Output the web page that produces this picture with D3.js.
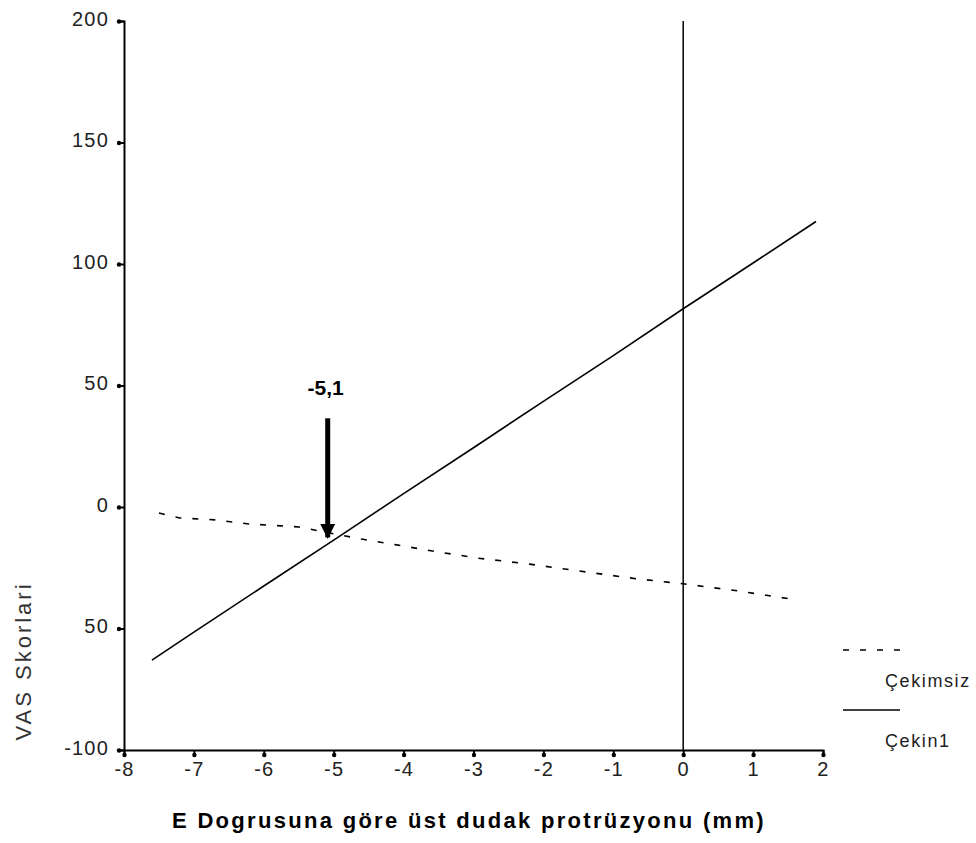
<!DOCTYPE html>
<html>
<head>
<meta charset="utf-8">
<script src="https://cdn.jsdelivr.net/npm/d3@7"></script>
<style>
  body { margin: 0; background: #fff; }
  svg { display: block; }
</style>
</head>
<body>
<svg id="chart" width="976" height="843"></svg>
<script>
// x ticks and y ticks as printed on the original (the -50 label lost its minus)
var xTicks = [-8, -7, -6, -5, -4, -3, -2, -1, 0, 1, 2];
var yTicks = [200, 150, 100, 50, 0, -50, -100];
var yTickLabels = ['200', '150', '100', '50', '0', '50', '-100'];

// Çekin1 (solid)
var cekinX = [-7.6, -7, -6, -5, -4, -3, -2, -1, 0, 1, 1.9];
var cekinY = [-63, -51.5, -32.5, -13.6, 5.5, 24.4, 43.5, 62.3, 81.6, 100.4, 117.5];

// Çekimsiz (dashed)
var cekimsizX = [-7.5, -7.2, -6.7, -6.2, -5.5, -5.0, -4.6, -4.1, -3.5, -2.95, -2.2, -1.4, -0.65, 0, 0.8, 1.55];
var cekimsizY = [-2.5, -4.5, -5.3, -7.0, -8.2, -11.0, -13.2, -15.6, -18.5, -21.0, -23.5, -26.7, -29.6, -31.6, -34.6, -37.9];

var markX = -5.1;
var markLabel = '-5,1';

var svg = d3.select('#chart'),
    margin = {top: 21, right: 153, bottom: 93, left: 124},
    width = +svg.attr('width') - margin.left - margin.right,
    height = +svg.attr('height') - margin.top - margin.bottom,
    g = svg.append('g').attr('transform', 'translate(' + margin.left + ',' + margin.top + ')');

var x = d3.scaleLinear().domain([-8, 2]).range([0, width]);
var y = d3.scaleLinear().domain([-100, 200]).range([height, 0]);

var tickFont = 'Arial, "Liberation Sans", sans-serif';

// vertical reference line at x = 0
g.append('line')
    .attr('x1', x(0)).attr('x2', x(0))
    .attr('y1', y(200)).attr('y2', y(-100))
    .attr('stroke', '#000').attr('stroke-width', 1.5);

// axes
var xAxis = g.append('g')
    .attr('transform', 'translate(0,' + height + ')')
    .call(d3.axisBottom(x).tickValues(xTicks).tickSize(5).tickPadding(7)
        .tickFormat(function(d) { return d < 0 ? '-' + Math.abs(d) : '' + d; }));
var yAxis = g.append('g')
    .call(d3.axisLeft(y).tickValues(yTicks).tickSize(5).tickPadding(10)
        .tickFormat(function(d, i) { return yTickLabels[i]; }));

[xAxis, yAxis].forEach(function(ax) {
  ax.select('.domain').attr('stroke', '#000').attr('stroke-width', 2);
  ax.selectAll('.tick line').attr('stroke', '#000').attr('stroke-width', 2);
  ax.selectAll('.tick text')
      .attr('font-family', tickFont)
      .attr('font-size', 20)
      .attr('letter-spacing', 1.2)
      .attr('fill', '#222');
});
yAxis.selectAll('.tick text').attr('dy', '0.2em');
xAxis.selectAll('.tick').append('circle').attr('cy', 5).attr('r', 2.2).attr('fill', '#000');
yAxis.selectAll('.tick').append('circle').attr('cx', -5).attr('r', 2.2).attr('fill', '#000');

// lines
var line = d3.line()
    .x(function(d) { return x(d[0]); })
    .y(function(d) { return y(d[1]); });

g.append('path')
    .datum(d3.zip(cekinX, cekinY))
    .attr('fill', 'none')
    .attr('stroke', '#000')
    .attr('stroke-width', 1.6)
    .attr('d', line);

g.append('path')
    .datum(d3.zip(cekimsizX, cekimsizY))
    .attr('fill', 'none')
    .attr('stroke', '#000')
    .attr('stroke-width', 1.6)
    .attr('stroke-dasharray', '6,11')
    .attr('d', line);

// annotation arrow
var defs = svg.append('defs');
defs.append('marker')
    .attr('id', 'arrow')
    .attr('viewBox', '0 0 10 10')
    .attr('refX', 9).attr('refY', 5)
    .attr('markerWidth', 3).attr('markerHeight', 3)
    .attr('orient', 'auto')
  .append('path')
    .attr('d', 'M0,0 L10,5 L0,10 z')
    .attr('fill', '#000');

var ax0 = x(markX) + 1;
g.append('line')
    .attr('x1', ax0).attr('x2', ax0)
    .attr('y1', y(36.5)).attr('y2', y(-12.5))
    .attr('stroke', '#000').attr('stroke-width', 5)
    .attr('marker-end', 'url(#arrow)');

g.append('text')
    .attr('x', ax0 - 2)
    .attr('y', y(46))
    .attr('text-anchor', 'middle')
    .attr('font-family', tickFont)
    .attr('font-weight', 'bold')
    .attr('font-size', 21)
    .text(markLabel);

// axis titles
svg.append('text')
    .attr('x', 469)
    .attr('y', 828)
    .attr('text-anchor', 'middle')
    .attr('font-family', tickFont)
    .attr('font-weight', 'bold')
    .attr('font-size', 22)
    .attr('letter-spacing', 2.3)
    .text('E Dogrusuna göre üst dudak protrüzyonu (mm)');

svg.append('text')
    .attr('transform', 'translate(31,661) rotate(-90)')
    .attr('text-anchor', 'middle')
    .attr('font-family', tickFont)
    .attr('font-size', 22)
    .attr('letter-spacing', 3)
    .attr('fill', '#333')
    .text('VAS Skorlari');

// legend
var legend = svg.append('g')
    .attr('font-family', tickFont)
    .attr('font-size', 18)
    .attr('letter-spacing', 1.6)
    .attr('fill', '#222');

var legendItems = [
  {name: 'Çekimsiz', dash: '6,11', y: 650},
  {name: 'Çekin1', dash: null, y: 710}
];
legendItems.forEach(function(d) {
  legend.append('line')
      .attr('x1', 843).attr('x2', 900)
      .attr('y1', d.y).attr('y2', d.y)
      .attr('stroke', '#000').attr('stroke-width', 1.6)
      .attr('stroke-dasharray', d.dash);
  legend.append('text')
      .attr('x', 885).attr('y', d.y + 37)
      .text(d.name);
});
</script>
</body>
</html>
